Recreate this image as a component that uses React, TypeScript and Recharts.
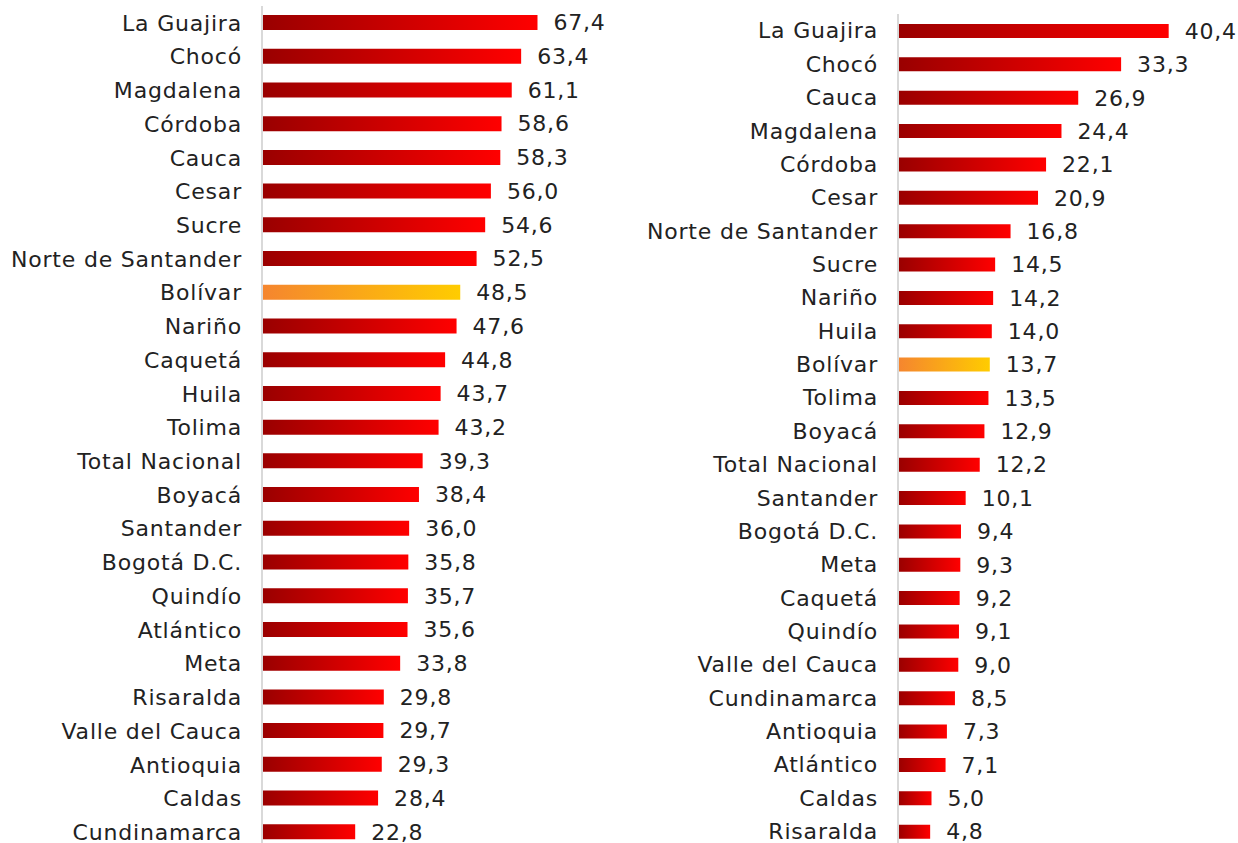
import { Bar, BarChart, Cell, LabelList, XAxis, YAxis } from "recharts";

const leftNames = [
  "La Guajira", "Chocó", "Magdalena", "Córdoba", "Cauca", "Cesar", "Sucre",
  "Norte de Santander", "Bolívar", "Nariño", "Caquetá", "Huila", "Tolima",
  "Total Nacional", "Boyacá", "Santander", "Bogotá D.C.", "Quindío", "Atlántico",
  "Meta", "Risaralda", "Valle del Cauca", "Antioquia", "Caldas", "Cundinamarca",
];
const leftValues = [
  67.4, 63.4, 61.1, 58.6, 58.3, 56.0, 54.6, 52.5, 48.5, 47.6, 44.8, 43.7, 43.2,
  39.3, 38.4, 36.0, 35.8, 35.7, 35.6, 33.8, 29.8, 29.7, 29.3, 28.4, 22.8,
];

const rightNames = [
  "La Guajira", "Chocó", "Cauca", "Magdalena", "Córdoba", "Cesar",
  "Norte de Santander", "Sucre", "Nariño", "Huila", "Bolívar", "Tolima", "Boyacá",
  "Total Nacional", "Santander", "Bogotá D.C.", "Meta", "Caquetá", "Quindío",
  "Valle del Cauca", "Cundinamarca", "Antioquia", "Atlántico", "Caldas", "Risaralda",
];
const rightValues = [
  40.4, 33.3, 26.9, 24.4, 22.1, 20.9, 16.8, 14.5, 14.2, 14.0, 13.7, 13.5, 12.9,
  12.2, 10.1, 9.4, 9.3, 9.2, 9.1, 9.0, 8.5, 7.3, 7.1, 5.0, 4.8,
];

const highlight = "Bolívar";
const FONT = "'DejaVu Sans', sans-serif";
const INK = "#222222";
const textStyle = { fill: INK, fontSize: 22, fontFamily: FONT, letterSpacing: 0.8 };

const fmt = (v: number) => v.toFixed(1).replace(".", ",");

interface PanelProps {
  id: string;
  names: string[];
  values: number[];
  left: number;
  top: number;
  width: number;
  height: number;
  axisWidth: number;
  max: number;
  barSize: number;
  marginRight: number;
}

function Panel({ id, names, values, left, top, width, height, axisWidth, max, barSize, marginRight }: PanelProps) {
  const data = names.map((name, i) => ({ name, value: values[i] }));
  return (
    <div style={{ position: "absolute", left, top: 0 }}>
      <BarChart
        width={width}
        height={height}
        data={data}
        layout="vertical"
        margin={{ top, right: marginRight, left: 0, bottom: 0 }}
        barCategoryGap={0}
        style={{ overflow: "visible" }}
      >
        <defs>
          <linearGradient id={`${id}-red`} x1="0" y1="0" x2="1" y2="0">
            <stop offset="0%" stopColor="#990000" />
            <stop offset="100%" stopColor="#FF0000" />
          </linearGradient>
          <linearGradient id={`${id}-gold`} x1="0" y1="0" x2="1" y2="0">
            <stop offset="0%" stopColor="#F5852F" />
            <stop offset="100%" stopColor="#FFCC00" />
          </linearGradient>
        </defs>
        <XAxis type="number" domain={[0, max]} hide />
        <YAxis
          type="category"
          dataKey="name"
          width={axisWidth}
          tickLine={false}
          tickSize={0}
          tickMargin={20}
          axisLine={{ stroke: "#d9d9d9", strokeWidth: 2 }}
          interval={0}
          tick={textStyle}
        />
        <Bar dataKey="value" barSize={barSize} isAnimationActive={false}>
          {data.map((d) => (
            <Cell key={d.name} fill={d.name === highlight ? `url(#${id}-gold)` : `url(#${id}-red)`} />
          ))}
          <LabelList
            dataKey="value"
            position="right"
            offset={16}
            formatter={(v: number) => fmt(v)}
            style={textStyle}
          />
        </Bar>
      </BarChart>
    </div>
  );
}

export default function App() {
  return (
    <div style={{ position: "absolute", left: 0, top: 0, width: 1238, height: 843, overflow: "hidden", background: "#fff" }}>
      <Panel
        id="l"
        names={leftNames}
        values={leftValues}
        left={0}
        top={6}
        width={620}
        height={849}
        axisWidth={262}
        max={80}
        barSize={15}
        marginRight={31}
      />
      <Panel
        id="r"
        names={rightNames}
        values={rightValues}
        left={630}
        top={14}
        width={608}
        height={848}
        axisWidth={268}
        max={50}
        barSize={14}
        marginRight={5}
      />
    </div>
  );
}
